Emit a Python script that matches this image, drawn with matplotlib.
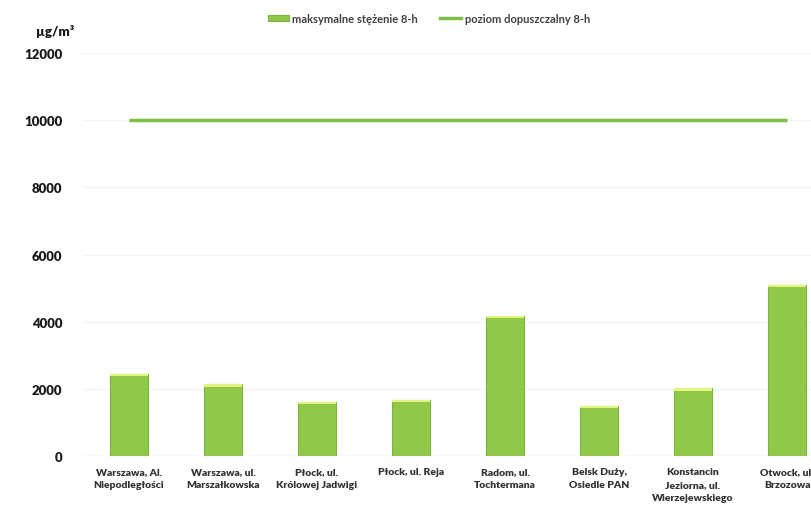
import matplotlib
matplotlib.use("Agg")
import matplotlib.pyplot as plt
from matplotlib.lines import Line2D
from matplotlib.patches import Patch
import numpy as np

plt.rcParams['font.family'] = ['Lato', 'DejaVu Sans']

# Stations and 8-hour maximum CO concentrations (µg/m³)
stations = [
    "Warszawa, Al.\nNiepodległości",
    "Warszawa, ul.\nMarszałkowska",
    "Płock, ul.\nKrólowej Jadwigi",
    "Płock, ul. Reja",
    "Radom, ul.\nTochtermana",
    "Belsk Duży,\nOsiedle PAN",
    "Konstancin\nJeziorna, ul.\nWierzejewskiego",
    "Otwock, ul.\nBrzozowa",
]
max_8h = [2440, 2140, 1610, 1670, 4170, 1490, 2020, 5090]
limit_8h = [10000] * len(stations)
y_ticks = [0, 2000, 4000, 6000, 8000, 10000, 12000]

bar_green = '#90c94a'
bar_edge = '#7cb43c'
cap_yellow = '#e6f27e'
line_green = '#80c046'

fig = plt.figure(figsize=(8.11, 5.10), dpi=100)
ax = fig.add_axes([0.1011, 0.1039, 0.9273, 0.790])

x = np.arange(len(stations))
ax.bar(x, max_8h, width=0.40, color=bar_green, edgecolor=bar_edge,
       linewidth=0.8, zorder=3)
# light bevel along the top of each bar
cap = 70
ax.bar(x, [cap] * len(x), bottom=[v - cap for v in max_8h], width=0.40,
       color=cap_yellow, linewidth=0, zorder=4)

ax.plot(x, limit_8h, color=line_green, linewidth=2.5, solid_capstyle='butt',
        zorder=5)

ax.set_xlim(-0.5, len(stations) - 0.5)
ax.set_ylim(0, 12000)
ax.set_yticks(y_ticks)
ax.set_yticklabels([str(t) for t in y_ticks], fontsize=9.5,
                   fontweight='heavy', color='#1a1a1a')
ax.set_xticks(x)
ax.set_xticklabels(stations, fontsize=7.5, fontweight='heavy',
                   color='#333333', linespacing=1.55)
ax.tick_params(axis='both', length=0)
ax.tick_params(axis='y', pad=14)
ax.tick_params(axis='x', pad=8)
ax.grid(axis='y', color='#f4f4f4', linewidth=1.0, zorder=0)
for s in ax.spines.values():
    s.set_visible(False)
ax.axhline(0, color='#eeeeee', linewidth=1.0, zorder=1)

fig.text(0.044, 0.938, "µg/m³", fontsize=9.5, fontweight='heavy',
         color='#1a1a1a', ha='left', va='center')

handles = [
    Patch(facecolor=bar_green, edgecolor=bar_edge, linewidth=0.8),
    Line2D([0], [0], color=line_green, linewidth=2.5),
]
labels = ["maksymalne stężenie 8-h", "poziom dopuszczalny 8-h"]
fig.legend(handles, labels, loc='center', bbox_to_anchor=(0.529, 0.962),
           ncol=2, frameon=False, fontsize=8, handlelength=1.9,
           handleheight=0.5, handletextpad=0.3, columnspacing=2.0,
           labelcolor='#404040', prop={'weight': 'bold', 'size': 8})

fig.savefig("out.png", dpi=100, facecolor='white')
